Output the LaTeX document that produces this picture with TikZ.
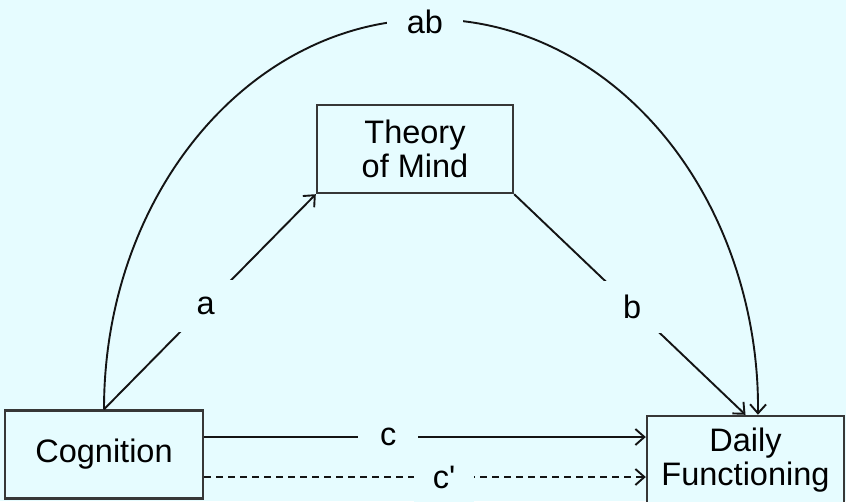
\documentclass[tikz,border=0pt]{standalone}
\usepackage{fontspec}
\setmainfont{Liberation Sans}
\usetikzlibrary{arrows.meta}
\definecolor{bg}{RGB}{230,252,255}
\definecolor{ink}{RGB}{20,20,20}
\begin{document}
\begin{tikzpicture}[x=1pt,y=1pt,
  box/.style={draw=ink!85, line width=2.4pt, fill=bg, minimum width=198pt, minimum height=88pt, inner sep=0pt, align=center, font=\fontsize{32.5}{34}\selectfont},
  conn/.style={draw=ink, line width=1.9pt, -{Straight Barb[length=9pt,width=16pt]}},
  lbl/.style={fill=bg, inner sep=0pt, minimum width=60pt, minimum height=50pt, font=\fontsize{32.5}{34}\selectfont}]
\fill[bg] (0,0) rectangle (846,-501);
\useasboundingbox (0,0) rectangle (846,-501);
\node[box] (cog) at (104,-454.5) {Cognition};
\node[box, minimum width=196pt] (tom) at (415,-149) {Theory\\of Mind};
\node[box, minimum width=197pt] (dfn) at (745.5,-460) {Daily\\Functioning};
\draw[conn] (cog.north) arc[start angle=180, end angle=-0.8, x radius=327, y radius=390];
\node[lbl, minimum width=76pt] (ab) at (425,-22) {ab};
\draw[conn] (cog.north) -- node[lbl, minimum height=52pt, pos=0.48]{a} (tom.south west);
\draw[conn] (tom.south east) -- node[lbl, minimum height=52pt, pos=0.51]{b} (dfn.north);
\draw[conn] ([yshift=17.5pt]cog.east) -- node[lbl, pos=0.417]{c} ([yshift=23pt]dfn.west);
\draw[conn, dash pattern=on 7pt off 5pt] ([yshift=-22.5pt]cog.east) -- node[lbl, pos=0.543]{c\textquotesingle} ([yshift=-17pt]dfn.west);
\end{tikzpicture}
\end{document}
